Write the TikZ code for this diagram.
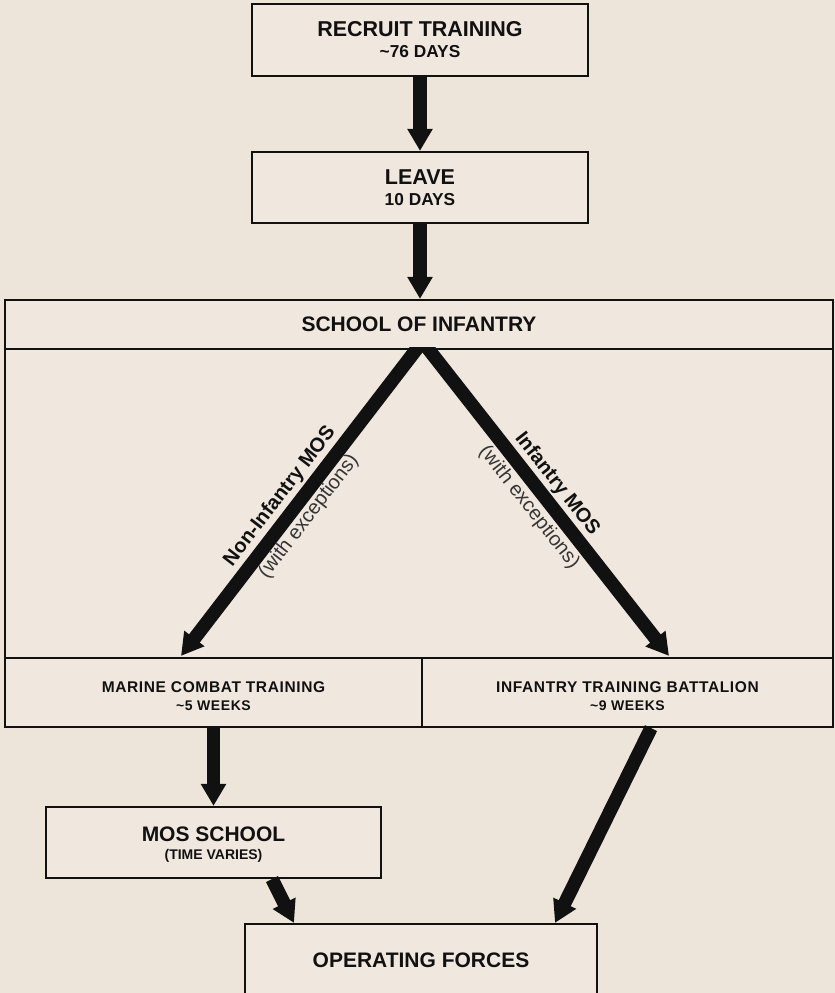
\documentclass[tikz,border=0pt]{standalone}
\usepackage{fontspec}
\setmainfont{Liberation Sans}
\usetikzlibrary{arrows.meta,calc}
\definecolor{bg}{HTML}{EDE5DA}
\definecolor{boxfill}{HTML}{F0E8DF}
\definecolor{ink}{HTML}{111111}
\newcommand{\fsz}[2]{\fontsize{#1}{#2}\selectfont}
\tikzset{
  box/.style={draw=ink, line width=2.2pt, fill=boxfill, inner sep=0pt, align=center, text=ink},
  fat/.style={draw=ink, line width=13.5pt, -{Triangle[length=22pt,width=24pt]}},
  lab/.style={inner sep=0pt, text=ink},
}
\begin{document}
\begin{tikzpicture}[x=1pt,y=-1pt]
\fill[bg] (0,0) rectangle (835,993);
\useasboundingbox (0,0) rectangle (835,993);
\clip (0,0) rectangle (835,993);

% boxes
\node[box, minimum width=336pt, minimum height=72pt, font=\bfseries\fsz{17.3}{21}] (rt) at (420,40)
  {{\fsz{21.5}{21}RECRUIT TRAINING}\\\textasciitilde 76 DAYS};
\node[box, minimum width=336pt, minimum height=71pt, font=\bfseries\fsz{17.3}{21.5}] (lv) at (420,187.5)
  {{\fsz{21.5}{21.5}LEAVE}\\10 DAYS};
\node[box, minimum width=828pt, minimum height=309pt] (soibody) at (419,503.5) {};
\node[box, minimum width=828pt, minimum height=49pt, font=\bfseries\fsz{21}{24}] (soi) at (419,324.5)
  {SCHOOL OF INFANTRY};
\node[box, minimum width=417pt, minimum height=69pt, font=\bfseries\fsz{14}{18.5}\addfontfeature{LetterSpace=4}] (mct) at (213.5,692.5)
  {\rule{0pt}{18.5pt}{\fsz{15.5}{18.5}MARINE COMBAT TRAINING}\\\textasciitilde 5 WEEKS};
\node[box, minimum width=411pt, minimum height=69pt, font=\bfseries\fsz{14}{18.5}\addfontfeature{LetterSpace=4}] (itb) at (627.5,692.5)
  {\rule{0pt}{18.5pt}{\fsz{15.5}{18.5}INFANTRY TRAINING BATTALION}\\\textasciitilde 9 WEEKS};
\node[box, minimum width=335pt, minimum height=71pt, font=\bfseries\fsz{14}{18.3}] (mos) at (213.5,842.5)
  {\rule{0pt}{19pt}{\fsz{21}{18.3}MOS SCHOOL}\\(TIME VARIES)};
\node[box, minimum width=352pt, minimum height=72pt, font=\bfseries\fsz{21}{24}] (of) at (421,960)
  {OPERATING FORCES};

% connectors
\draw[fat] (rt.south) -- (lv.north);
\draw[fat] (lv.south) -- (lv.south |- soi.north);
\coordinate (apex) at ([xshift=3.4pt,yshift=6.4pt]soibody.north);
\begin{scope}
  \clip (soibody.north west) rectangle (soibody.south east);
  \draw[fat] (apex) -- ([xshift=-32.5pt,yshift=1pt]mct.north);
  \draw[fat] (apex) -- ([xshift=41.5pt,yshift=1pt]itb.north);
\end{scope}
\draw[fat] (mct.south) -- (mct.south |- mos.north);
\draw[fat] ([xshift=58.5pt]mos.south) -- ([xshift=-127pt]of.north);
\draw[fat] ([xshift=23.5pt]itb.south) -- ([xshift=134pt]of.north);

% route labels
\node[lab, rotate=52.5, font=\bfseries\fsz{20}{22}] (nilab) at (280,496.5) {Non-Infantry MOS};
\node[lab, rotate=52.5, font=\fsz{20}{22}, text=ink!85] (niex) at (309,516.5) {(with exceptions)};
\node[lab, rotate=-51.9, font=\bfseries\fsz{20}{22}] (ilab) at (557,484) {Infantry MOS};
\node[lab, rotate=-51.9, font=\fsz{20}{22}, text=ink!85] (iex) at (529,507.5) {(with exceptions)};
\end{tikzpicture}
\end{document}
